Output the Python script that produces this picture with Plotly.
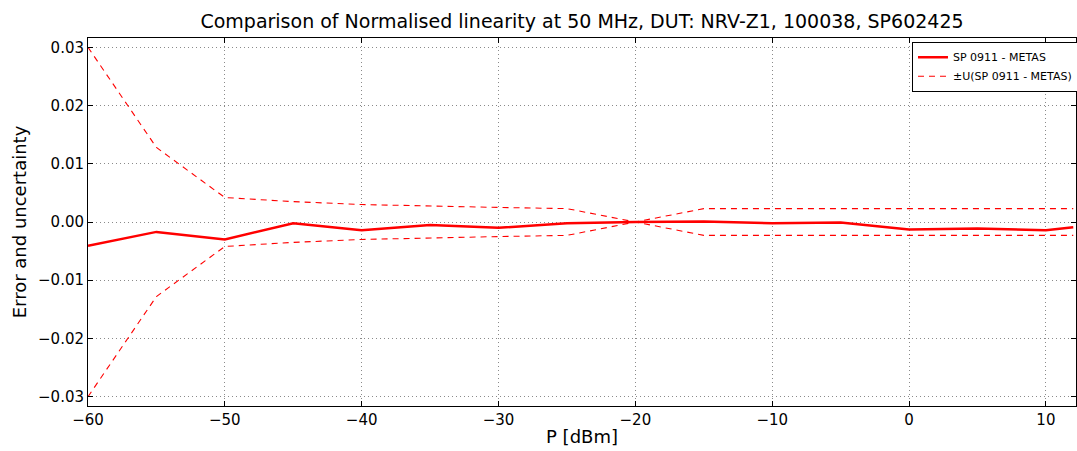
import plotly.graph_objects as go

P = [-60, -55, -50, -45, -40, -35, -30, -25, -20, -15, -10, -5, 0, 5, 10, 12]
err = [-0.0041, -0.0017, -0.0030, -0.0002, -0.0014, -0.0005, -0.0010, -0.0002,
       0.0000, 0.0001, -0.0002, -0.0001, -0.0013, -0.0011, -0.0014, -0.0009]
U = [0.0300, 0.0128, 0.0042, 0.0035, 0.0030, 0.0027, 0.0025, 0.0023,
     0.0000, 0.0023, 0.0023, 0.0023, 0.0022, 0.0023, 0.0023, 0.0023]
U_neg = [-u for u in U]

x_ticks = [-60, -50, -40, -30, -20, -10, 0, 10]
y_ticks = [-0.03, -0.02, -0.01, 0.0, 0.01, 0.02, 0.03]

fig = go.Figure()
fig.add_trace(go.Scatter(x=P, y=err, mode="lines", name="SP 0911 - METAS",
                         line=dict(color="#ff0000", width=2.5)))
fig.add_trace(go.Scatter(x=P, y=U, mode="lines", name="±U(SP 0911 - METAS)",
                         line=dict(color="#ff0000", width=1.1, dash="6px,5px")))
fig.add_trace(go.Scatter(x=P, y=U_neg, mode="lines", showlegend=False,
                         line=dict(color="#ff0000", width=1.1, dash="6px,5px")))

axis_common = dict(showline=True, linecolor="black", linewidth=1, mirror="ticks",
                   ticks="inside", ticklen=5, tickcolor="black",
                   showgrid=True, gridcolor="#8a8a8a", griddash="1px,3px", gridwidth=1,
                   zeroline=False, tickfont=dict(size=15, color="black"))

fig.update_xaxes(range=[-60, 12.2], tickvals=x_ticks,
                 title=dict(text="P [dBm]", font=dict(size=18, color="black"), standoff=2),
                 **axis_common)
fig.update_yaxes(range=[-0.0316, 0.0316], tickvals=y_ticks, tickformat=".2f",
                 title=dict(text="Error and uncertainty", font=dict(size=18, color="black"), standoff=6),
                 **axis_common)

fig.update_layout(
    width=1077, height=451,
    margin=dict(l=88, r=1, t=38, b=45, autoexpand=False),
    paper_bgcolor="white", plot_bgcolor="white",
    font=dict(family="DejaVu Sans", color="black"),
    title=dict(text="Comparison of Normalised linearity at 50 MHz, DUT: NRV-Z1, 100038, SP602425",
               xref="paper", x=0.5, xanchor="center", y=0.953, yanchor="middle",
               font=dict(size=19, color="black")),
    legend=dict(x=0.834, y=0.99, xanchor="left", yanchor="top",
                bgcolor="white", bordercolor="black", borderwidth=1,
                font=dict(size=11, color="black"), tracegroupgap=0),
    showlegend=True,
)

fig.write_html("out.html")
